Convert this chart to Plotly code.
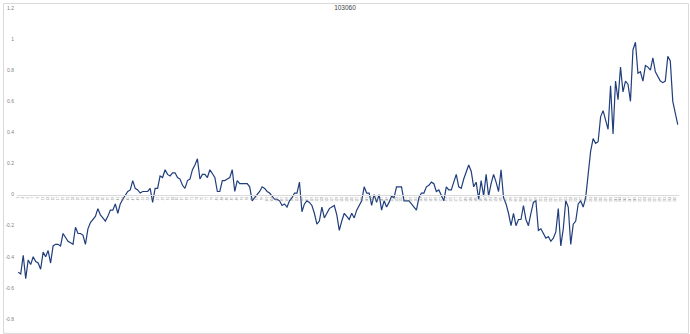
import plotly.graph_objects as go

title_text = "103060"

values = [
    -0.50, -0.51, -0.39, -0.54, -0.42, -0.45, -0.40, -0.43, -0.44, -0.48,
    -0.37, -0.40, -0.36, -0.44, -0.33, -0.32, -0.32, -0.33, -0.25, -0.28,
    -0.30, -0.31, -0.32, -0.21, -0.25, -0.25, -0.26, -0.32, -0.22, -0.18,
    -0.16, -0.14, -0.09, -0.13, -0.15, -0.17, -0.14, -0.10, -0.10, -0.06,
    -0.12, -0.06, -0.03, 0.00, 0.02, 0.03, 0.09, 0.04, 0.03, 0.01,
    0.02, 0.02, 0.02, 0.04, -0.05, 0.04, 0.04, 0.12, 0.11, 0.16,
    0.13, 0.12, 0.14, 0.14, 0.11, 0.10, 0.06, 0.04, 0.09, 0.10,
    0.16, 0.19, 0.23, 0.10, 0.13, 0.13, 0.11, 0.16, 0.13, 0.11,
    0.02, 0.02, 0.09, 0.09, 0.10, 0.11, 0.16, 0.02, 0.09, 0.07,
    0.07, 0.07, 0.07, 0.05, -0.04, -0.02, 0.00, 0.02, 0.05, 0.04,
    0.02, 0.01, -0.01, -0.03, -0.03, -0.04, -0.07, -0.06, -0.08, -0.04,
    -0.02, 0.01, 0.01, 0.08, -0.11, -0.06, -0.04, -0.05, -0.07, -0.12,
    -0.19, -0.17, -0.08, -0.15, -0.12, -0.09, -0.08, -0.07, -0.13, -0.23,
    -0.17, -0.12, -0.14, -0.16, -0.12, -0.15, -0.10, -0.07, -0.04, 0.05,
    0.01, 0.01, -0.07, 0.00, -0.05, 0.00, -0.10, -0.04, -0.08, -0.05,
    -0.01, -0.02, 0.05, 0.05, 0.05, -0.04, -0.04, -0.04, -0.06, -0.08,
    -0.10, -0.02, 0.01, 0.01, 0.05, 0.06, 0.08, 0.07, 0.02, 0.03,
    0.00, -0.04, 0.05, 0.03, 0.03, 0.08, 0.13, 0.05, 0.04, 0.10,
    0.14, 0.19, 0.15, 0.05, 0.08, -0.03, 0.09, -0.01, 0.13, -0.01,
    0.07, 0.13, 0.08, 0.02, 0.16, -0.02, -0.06, -0.12, -0.20, -0.12,
    -0.20, -0.16, -0.16, -0.07, -0.16, -0.20, -0.12, -0.05, -0.04, -0.23,
    -0.22, -0.25, -0.28, -0.27, -0.30, -0.28, -0.24, -0.09, -0.33, -0.22,
    -0.04, -0.08, -0.32, -0.19, -0.17, -0.06, -0.04, -0.08, -0.02, 0.13,
    0.28, 0.36, 0.33, 0.34, 0.50, 0.54, 0.47, 0.42, 0.70, 0.39,
    0.73, 0.61, 0.82, 0.66, 0.73, 0.71, 0.60, 0.93, 0.98, 0.78,
    0.79, 0.73, 0.83, 0.82, 0.80, 0.88, 0.79, 0.76, 0.73, 0.72,
    0.73, 0.89, 0.86, 0.60, 0.52, 0.45,
]
categories = list(range(1, len(values) + 1))
x_tick_vals = categories[::2]
x_tick_text = [str(c) for c in x_tick_vals]
y_ticks = [-0.8, -0.6, -0.4, -0.2, 0, 0.2, 0.4, 0.6, 0.8, 1, 1.2]
y_tick_text = ["-0.8", "-0.6", "-0.4", "-0.2", "0", "0.2", "0.4", "0.6", "0.8", "1", "1.2"]

L, R, T, B = 14, 11, 5, 15
W, H = 690, 334
pw, ph = W - L - R, H - T - B

fig = go.Figure(go.Scatter(
    x=categories, y=values, mode="lines",
    line=dict(color="#203e7c", width=1.2),
    hoverinfo="skip",
))

fig.update_layout(
    width=W, height=H,
    margin=dict(l=L, r=R, t=T, b=B),
    paper_bgcolor="white", plot_bgcolor="white",
    showlegend=False,
    font=dict(family="Liberation Sans, Arial, sans-serif", color="#595959"),
    title=dict(text=title_text, x=0.5, xanchor="center", y=1 - 8 / H, yanchor="middle",
               yref="container", font=dict(size=6.5, color="#404040")),
    xaxis=dict(
        range=[0.5, len(values) + 0.5],
        tickmode="array", tickvals=x_tick_vals, ticktext=x_tick_text,
        tickangle=-90, tickfont=dict(size=3, color="#7f7f7f"),
        showgrid=False, zeroline=False,
        showline=True, linecolor="#d9d9d9", linewidth=1,
        anchor="free", position=0.4, ticks="",
    ),
    yaxis=dict(
        range=[-0.8, 1.2],
        tickmode="array", tickvals=y_ticks, ticktext=y_tick_text,
        tickfont=dict(size=5, color="#7f7f7f"),
        showgrid=False, zeroline=False, showline=False, ticks="",
        ticklabelstandoff=2,
    ),
    shapes=[dict(
        type="rect", xref="paper", yref="paper",
        x0=(0.5 - L) / pw, x1=(W - 1.5 - L) / pw,
        y0=(H - B - (H - 0.5)) / ph, y1=(H - B - 0.5) / ph,
        line=dict(color="#d9d9d9", width=1), fillcolor="rgba(0,0,0,0)",
        layer="below",
    )],
)

fig.write_html("out.html")
